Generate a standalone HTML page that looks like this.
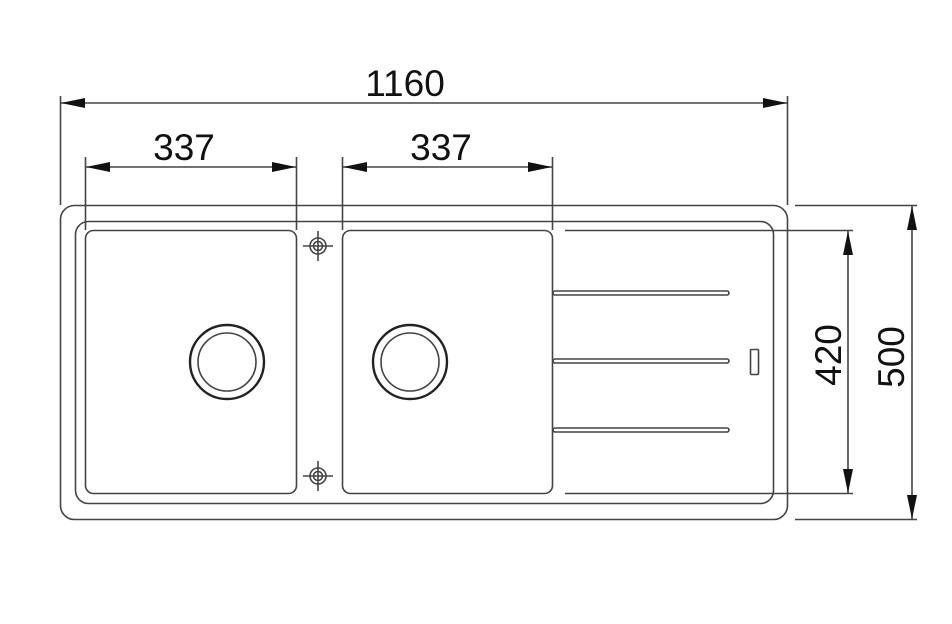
<!DOCTYPE html>
<html><head><meta charset="utf-8"><style>
html,body{margin:0;padding:0;background:#fff;}
svg{display:block}
text{font-family:"Liberation Sans",Arial,sans-serif;fill:#111;}
</style></head><body>
<svg width="952" height="624" viewBox="0 0 952 624" xmlns="http://www.w3.org/2000/svg">
<defs>
<marker id="a" viewBox="0 0 24 10" refX="24" refY="5" markerWidth="24" markerHeight="10" markerUnits="userSpaceOnUse" orient="auto-start-reverse">
<path d="M0,0 L24,5 L0,10 Z" fill="#111"/></marker>
</defs>
<g fill="none" stroke="#444" stroke-width="1.6">
<rect x="60.5" y="205.5" width="727" height="314" rx="14"/>
<rect x="75.5" y="221.5" width="698" height="282" rx="13"/>
<rect x="85.5" y="230.5" width="211" height="263" rx="8"/>
<rect x="342.5" y="230.5" width="210" height="263" rx="8"/>
<line x1="565" y1="230.5" x2="853" y2="230.5"/>
<line x1="565" y1="493.5" x2="853" y2="493.5"/>
<line x1="795" y1="205.5" x2="917" y2="205.5"/>
<line x1="795" y1="519.5" x2="917" y2="519.5"/>
<rect x="553" y="291" width="176" height="4" rx="2"/>
<rect x="553" y="359" width="176" height="4" rx="2"/>
<rect x="553" y="428" width="176" height="4" rx="2"/>
<rect x="750.5" y="349.5" width="8" height="25" rx="1"/>
<circle cx="227" cy="362" r="37" stroke-width="2.4" stroke="#222"/>
<circle cx="227" cy="362" r="29"/>
<circle cx="410" cy="362" r="37" stroke-width="2.4" stroke="#222"/>
<circle cx="410" cy="362" r="29"/>
<circle cx="318" cy="246" r="8"/><circle cx="318" cy="246" r="4.5"/>
<line x1="303" y1="246" x2="333" y2="246"/><line x1="318" y1="231" x2="318" y2="261"/>
<circle cx="318" cy="476" r="8"/><circle cx="318" cy="476" r="4.5"/>
<line x1="303" y1="476" x2="333" y2="476"/><line x1="318" y1="461" x2="318" y2="491"/>
<line x1="60.5" y1="96" x2="60.5" y2="205"/>
<line x1="787.5" y1="96" x2="787.5" y2="205"/>
<line x1="85.5" y1="157" x2="85.5" y2="230"/>
<line x1="296.5" y1="157" x2="296.5" y2="230"/>
<line x1="342.5" y1="157" x2="342.5" y2="230"/>
<line x1="552.5" y1="157" x2="552.5" y2="230"/>
</g>
<g stroke="#444" stroke-width="1.6" fill="none">
<line x1="61" y1="103" x2="787" y2="103" marker-start="url(#a)" marker-end="url(#a)"/>
<line x1="86" y1="167" x2="296" y2="167" marker-start="url(#a)" marker-end="url(#a)"/>
<line x1="343" y1="167" x2="552" y2="167" marker-start="url(#a)" marker-end="url(#a)"/>
<line x1="848" y1="231" x2="848" y2="493" marker-start="url(#a)" marker-end="url(#a)"/>
<line x1="912" y1="206" x2="912" y2="519" marker-start="url(#a)" marker-end="url(#a)"/>
</g>
<text x="405" y="96" font-size="37" text-anchor="middle">1160</text>
<text x="184" y="160" font-size="37" text-anchor="middle">337</text>
<text x="441" y="160" font-size="37" text-anchor="middle">337</text>
<text x="0" y="0" font-size="37" text-anchor="middle" transform="translate(841,355) rotate(-90)">420</text>
<text x="0" y="0" font-size="37" text-anchor="middle" transform="translate(904,357) rotate(-90)">500</text>
</svg>
</body></html>
